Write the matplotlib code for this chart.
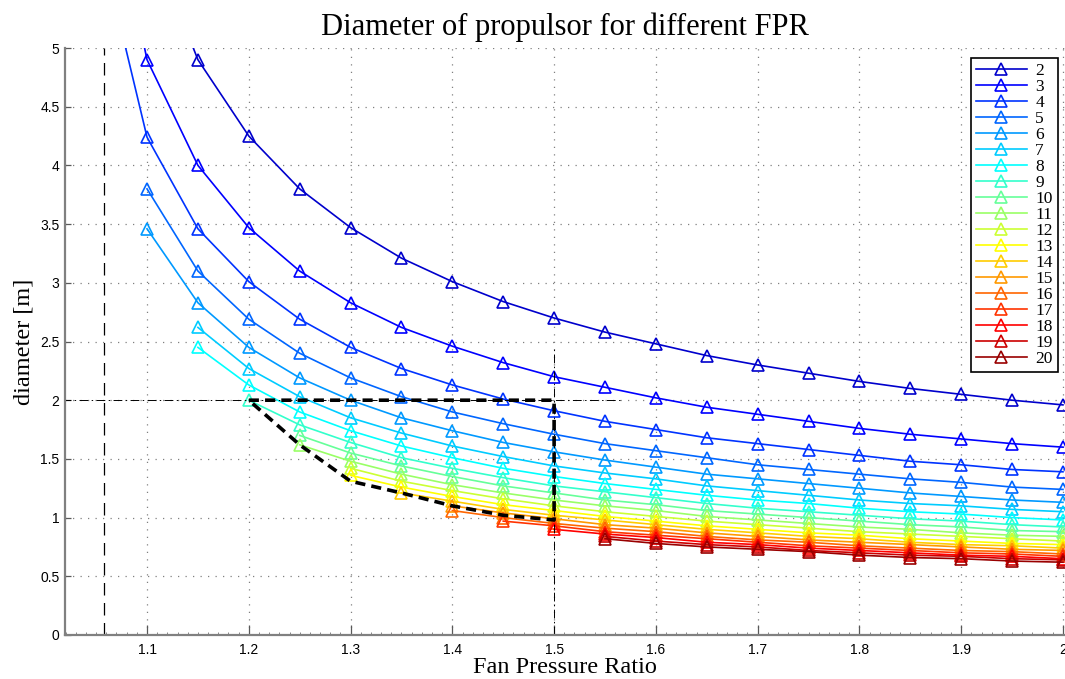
import numpy as np
import matplotlib
matplotlib.use('Agg')
import matplotlib.pyplot as plt
from matplotlib.ticker import MultipleLocator

# fan pressure ratio grid shared by all curves
fpr = [1.05, 1.10, 1.15, 1.20, 1.25, 1.30, 1.35, 1.40, 1.45, 1.50,
       1.55, 1.60, 1.65, 1.70, 1.75, 1.80, 1.85, 1.90, 1.95, 2.00]

# propulsor diameter [m] per number of propulsors, each list ends at FPR 2.0
d2 = [8.55, 6.00, 4.90, 4.25, 3.80, 3.47, 3.21, 3.01, 2.84, 2.70,
      2.58, 2.48, 2.38, 2.30, 2.23, 2.16, 2.10, 2.05, 2.00, 1.96]
d3 = [6.98, 4.90, 4.00, 3.47, 3.10, 2.83, 2.62, 2.46, 2.32, 2.20,
      2.11, 2.02, 1.94, 1.88, 1.82, 1.76, 1.71, 1.67, 1.63, 1.60]
d4 = [6.05, 4.24, 3.46, 3.01, 2.69, 2.45, 2.27, 2.13, 2.01, 1.91,
      1.82, 1.75, 1.68, 1.63, 1.58, 1.53, 1.48, 1.45, 1.41, 1.39]
d5 = [3.80, 3.10, 2.69, 2.40, 2.19, 2.03, 1.90, 1.80, 1.71,
      1.63, 1.57, 1.51, 1.45, 1.41, 1.37, 1.33, 1.30, 1.26, 1.24]
d6 = [3.46, 2.83, 2.45, 2.19, 2.00, 1.85, 1.74, 1.64, 1.56,
      1.49, 1.43, 1.37, 1.33, 1.29, 1.25, 1.21, 1.18, 1.15, 1.13]
d7 = [2.62, 2.27, 2.03, 1.85, 1.72, 1.61, 1.52, 1.44,
      1.38, 1.33, 1.27, 1.23, 1.19, 1.15, 1.12, 1.10, 1.07, 1.05]
d8 = [2.45, 2.13, 1.90, 1.74, 1.61, 1.51, 1.42, 1.35,
      1.29, 1.24, 1.19, 1.15, 1.12, 1.08, 1.05, 1.03, 1.00, 0.98]
d9 = [2.00, 1.79, 1.64, 1.51, 1.42, 1.34, 1.27,
      1.22, 1.17, 1.12, 1.08, 1.05, 1.02, 0.99, 0.97, 0.94, 0.92]
d10 = [1.70, 1.55, 1.44, 1.35, 1.27, 1.21,
       1.15, 1.11, 1.06, 1.03, 1.00, 0.97, 0.94, 0.92, 0.89, 0.88]
d11 = [1.62, 1.48, 1.37, 1.28, 1.21, 1.15,
       1.10, 1.06, 1.01, 0.98, 0.95, 0.92, 0.90, 0.87, 0.85, 0.84]
d12 = [1.42, 1.31, 1.23, 1.16, 1.10,
       1.05, 1.01, 0.97, 0.94, 0.91, 0.88, 0.86, 0.84, 0.82, 0.80]
d13 = [1.36, 1.26, 1.18, 1.11, 1.06,
       1.01, 0.97, 0.93, 0.90, 0.87, 0.85, 0.82, 0.80, 0.78, 0.77]
d14 = [1.21, 1.14, 1.07, 1.02,
       0.98, 0.94, 0.90, 0.87, 0.84, 0.82, 0.79, 0.77, 0.76, 0.74]
d15 = [1.10, 1.04, 0.99,
       0.94, 0.91, 0.87, 0.84, 0.81, 0.79, 0.77, 0.75, 0.73, 0.72]
d16 = [1.06, 1.00, 0.95,
       0.91, 0.88, 0.84, 0.81, 0.79, 0.76, 0.74, 0.72, 0.71, 0.69]
d17 = [0.97, 0.93,
       0.88, 0.85, 0.82, 0.79, 0.76, 0.74, 0.72, 0.70, 0.69, 0.67]
d18 = [0.90,
       0.86, 0.83, 0.79, 0.77, 0.74, 0.72, 0.70, 0.68, 0.67, 0.65]
d19 = [0.84, 0.80, 0.77, 0.75, 0.72, 0.70, 0.68, 0.67, 0.65, 0.64]
d20 = [0.82, 0.78, 0.75, 0.73, 0.71, 0.68, 0.66, 0.65, 0.63, 0.62]

n_prop = list(range(2, 21))
series = [d2, d3, d4, d5, d6, d7, d8, d9, d10, d11,
          d12, d13, d14, d15, d16, d17, d18, d19, d20]

# feasible design region (upper limit 2 m, FPR <= 1.5)
region_x = [1.20, 1.50, 1.50, 1.45, 1.40, 1.35, 1.30, 1.25, 1.20]
region_y = [2.00, 2.00, 0.98, 1.02, 1.10, 1.21, 1.31, 1.62, 2.00]

# guide lines
limit_d = 2.0
limit_fpr = 1.5
fpr_min = 1.058

# matlab jet(20), row N for N propulsors
jet20 = [(0, 0, 0.6), (0, 0, 0.8), (0, 0, 1), (0, 0.2, 1), (0, 0.4, 1),
         (0, 0.6, 1), (0, 0.8, 1), (0, 1, 1), (0.2, 1, 0.8), (0.4, 1, 0.6),
         (0.6, 1, 0.4), (0.8, 1, 0.2), (1, 1, 0), (1, 0.8, 0), (1, 0.6, 0),
         (1, 0.4, 0), (1, 0.2, 0), (1, 0, 0), (0.8, 0, 0), (0.6, 0, 0)]

serif = 'Liberation Serif'
sans = 'Liberation Sans'

fig = plt.figure(figsize=(10.65, 6.79), dpi=100)
ax = fig.add_axes([65/1065, 1 - 635/679, 1 - 65/1065, (635 - 48)/679])

for n, d in zip(n_prop, series):
    x = fpr[-len(d):]
    ax.plot(x, d, '-', marker='^', color=jet20[n - 1], linewidth=1.2,
            markersize=8, markerfacecolor='none', markeredgewidth=1.2,
            label=str(n))

ax.plot([fpr_min, fpr_min], [0, 5], color='k', linewidth=0.9, dashes=(10, 6))
ax.plot([1.0, 1.565], [limit_d, limit_d], color='k', linewidth=0.7,
        dashes=(9, 3.5, 1.5, 3.5))
ax.plot([limit_fpr, limit_fpr], [0, 2.45], color='k', linewidth=0.7,
        dashes=(9, 3.5, 1.5, 3.5))
ax.plot(region_x, region_y, color='k', linewidth=2.6, dashes=(2.8, 1.7))

ax.set_xlim(1.0194, 2.002)
ax.set_ylim(0, 5)
ax.set_xticks(np.arange(1.1, 2.01, 0.1))
ax.set_xticklabels(['1.1', '1.2', '1.3', '1.4', '1.5', '1.6', '1.7', '1.8', '1.9', '2'])
ax.set_yticks(np.arange(0, 5.01, 0.5))
ax.set_yticklabels(['0', '0.5', '1', '1.5', '2', '2.5', '3', '3.5', '4', '4.5', '5'])
ax.xaxis.set_minor_locator(MultipleLocator(0.01))

ax.grid(True, which='major', color=(0.5, 0.5, 0.5), linestyle=(0, (1, 5)), linewidth=0.9)
ax.tick_params(axis='x', which='major', direction='in', length=7, width=0.9,
               color=(0.35, 0.35, 0.35), labelsize=10, pad=6)
ax.tick_params(axis='x', which='minor', direction='in', length=2.5, width=0.6,
               color=(0.45, 0.45, 0.45))
ax.tick_params(axis='y', which='major', direction='in', length=4, width=0.9,
               color=(0.35, 0.35, 0.35), labelsize=10, pad=4)
for lab in ax.get_xticklabels() + ax.get_yticklabels():
    lab.set_family(sans)

for side in ['top', 'right']:
    ax.spines[side].set_visible(False)
for side in ['left', 'bottom']:
    ax.spines[side].set_color((0.5, 0.5, 0.5))
    ax.spines[side].set_linewidth(1.6)

ax.set_title('Diameter of propulsor for different FPR', family=serif, fontsize=22, pad=9)
ax.set_xlabel('Fan Pressure Ratio', family=serif, fontsize=17.5, labelpad=0)
ax.set_ylabel('diameter [m]', family=serif, fontsize=17.5, labelpad=4)

leg = ax.legend(loc='upper right', bbox_to_anchor=(1058/1065, 1 - 58/679),
                bbox_transform=fig.transFigure, prop={'family': serif, 'size': 12.5},
                fancybox=False, framealpha=1, edgecolor='k', labelspacing=-0.01,
                handlelength=2.9, handletextpad=0.5, borderpad=0.3, borderaxespad=0)
leg.get_frame().set_linewidth(1.2)

fig.savefig('out.png', dpi=100, facecolor='w')
